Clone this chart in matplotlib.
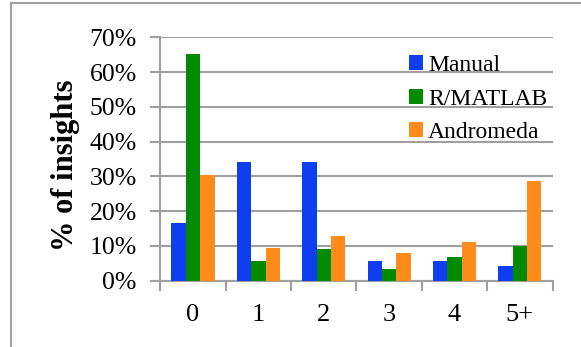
import matplotlib.pyplot as plt
import numpy as np

categories = ["0", "1", "2", "3", "4", "5+"]
manual = [16.5, 34.2, 34.2, 5.5, 5.5, 4.1]
rmatlab = [65.3, 5.7, 9.1, 3.3, 6.7, 10.0]
andromeda = [30.3, 9.4, 12.7, 7.9, 11.1, 28.6]
series_names = ["Manual", "R/MATLAB", "Andromeda"]
colors = ["#0f3ef0", "#008a00", "#ff8c1a"]

plt.rcParams['font.family'] = ['Liberation Serif', 'DejaVu Serif']

fig = plt.figure(figsize=(5.81, 3.47), dpi=100)
ax = fig.add_axes([0.276, 0.1916, 0.675, 0.701])

x = np.arange(len(categories))
w = 0.22
for i, (vals, name, c) in enumerate(zip([manual, rmatlab, andromeda], series_names, colors)):
    ax.bar(x + (i - 1) * w, vals, w, color=c, label=name, zorder=3)

ax.set_xlim(-0.5, len(categories) - 0.5)
ax.set_ylim(0, 70)
ax.set_yticks(np.arange(0, 71, 10))
ax.set_yticklabels([f"{v}%" for v in range(0, 71, 10)], fontsize=18.5)
ax.set_xticks(x)
ax.set_xticklabels(categories, fontsize=19)
ax.set_xticks(np.arange(-0.5, len(categories), 1), minor=True)
ax.tick_params(axis='x', which='major', length=0, pad=17)
ax.tick_params(axis='x', which='minor', length=7, width=1.5, color='#a0a0a0')
ax.tick_params(axis='y', length=7, width=1.5, color='#a0a0a0', pad=10)

ax.grid(axis='y', color='#a0a0a0', linewidth=1.5, zorder=0)
for s in ['top', 'right']:
    ax.spines[s].set_visible(False)
for s in ['left', 'bottom']:
    ax.spines[s].set_color('#a0a0a0')
    ax.spines[s].set_linewidth(1.5)

ax.set_ylabel("% of insights", fontsize=22, fontweight='bold')
ax.yaxis.set_label_coords(-0.205, 0.473)

ax.legend(loc='upper left', bbox_to_anchor=(0.61, 0.965), frameon=False,
          fontsize=17, handlelength=0.6, handleheight=0.6, handletextpad=0.2,
          labelspacing=0.53, borderaxespad=0)

# outer frame (left and top edges visible)
fig.add_artist(plt.Line2D([11 / 581, 11 / 581], [0, 1 - 3 / 347], color='#a0a0a0', lw=1.5))
fig.add_artist(plt.Line2D([11 / 581, 1], [1 - 3 / 347, 1 - 3 / 347], color='#a0a0a0', lw=1.5))

fig.savefig("out.png", dpi=100)
